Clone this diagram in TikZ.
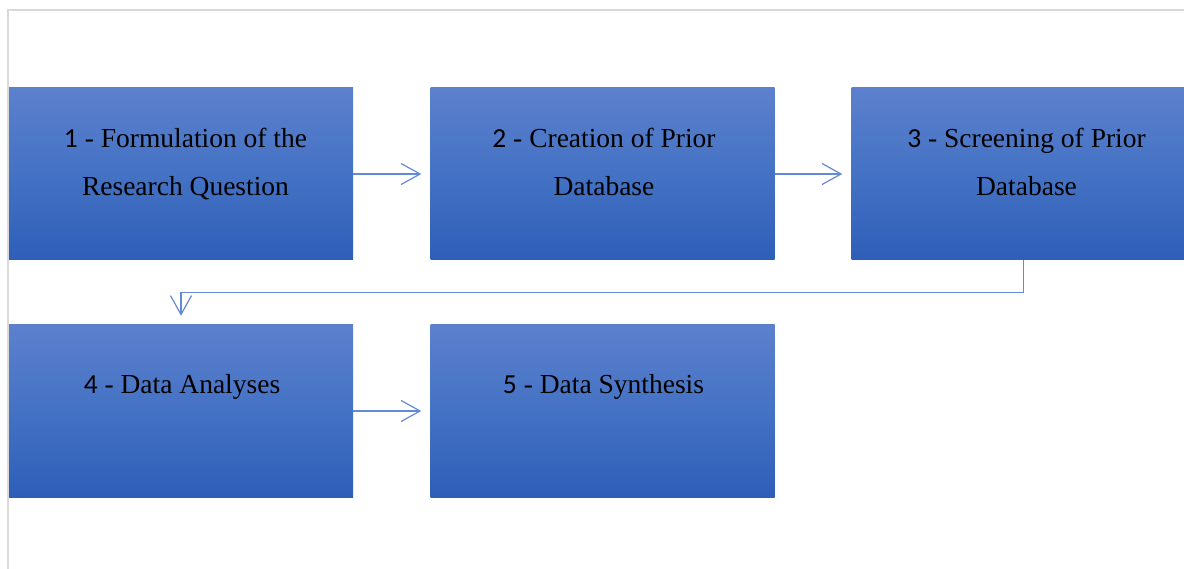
\documentclass[tikz,border=0pt]{standalone}
\usepackage{fontspec}
\setmainfont{Liberation Serif}
\newfontfamily\numf{Carlito}
\usetikzlibrary{arrows.meta,calc}
\definecolor{boxtop}{RGB}{92,128,205}
\definecolor{boxmid}{RGB}{68,114,196}
\definecolor{boxbot}{RGB}{46,94,184}
\definecolor{arrcol}{RGB}{98,138,214}
\definecolor{framecol}{RGB}{217,217,217}
\newcommand{\dg}[1]{{\numf #1}}
\tikzset{
  box/.style={rectangle, minimum width=344pt, minimum height=172pt, inner sep=0pt,
    top color=boxtop, bottom color=boxbot, middle color=boxmid, draw=none},
  txt/.style={align=center, inner sep=0pt, text=black, font=\rmfamily\fontsize{27.5}{48}\selectfont},
  arr/.style={draw=arrcol, line width=1.2pt, -{Straight Barb[length=19pt,width=21pt,line width=1.2pt]}, shorten >=9pt},
  frame/.style={draw=framecol, line width=1.2pt}
}
\begin{document}
\begin{tikzpicture}[x=1pt,y=-1pt]
\useasboundingbox (0,0) rectangle (1184,569);
\clip (0,0) rectangle (1184,569);
\fill[white] (0,0) rectangle (1184,569);
\draw[frame] (8,569) -- (8,10) -- (1184,10);
\node[box] (b1) at (181,174) {};
\node[box] (b2) at (602.5,174) {};
\node[box] (b3) at (1023.5,174) {};
\node[box] (b4) at (181,411) {};
\node[box] (b5) at (602.5,411) {};
\node[txt] (t1) at (185.5,162) {\strut\dg{1} - Formulation of the\\\rmfamily\strut Research Question};
\node[txt] (t2) at (604,162) {\strut\dg{2} - Creation of Prior\\\rmfamily\strut Database};
\node[txt] (t3) at (1026.5,162) {\strut\dg{3} - Screening of Prior\\\rmfamily\strut Database};
\node[txt] (t4) at (182,383.4) {\strut\dg{4} - Data Analyses};
\node[txt] (t5) at (603.5,383.4) {\strut\dg{5} - Data Synthesis};
\draw[arr] (b1.east) -- (b2.west);
\draw[arr] (b2.east) -- (b3.west);
\draw[arr] (b3.south) -- ++(0,32) -| (b4.north);
\draw[arr] (b4.east) -- (b5.west);
\end{tikzpicture}
\end{document}
